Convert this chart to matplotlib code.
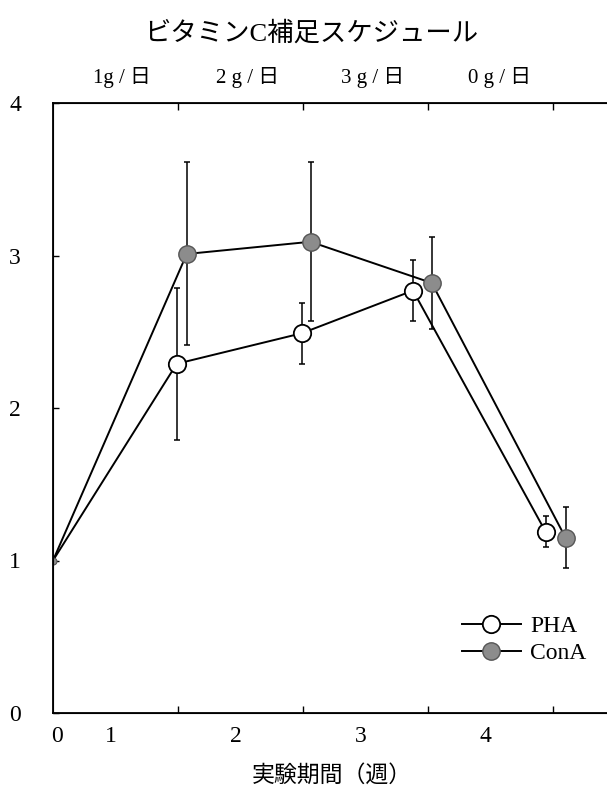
import matplotlib.pyplot as plt
from matplotlib.lines import Line2D

plt.rcParams['font.family'] = ['Liberation Serif', 'Noto Sans CJK JP']

# data (x in weeks)
start = (0.0, 1.0)
pha_x = [0.99, 1.99, 2.88, 3.94]
pha_y = [2.29, 2.49, 2.77, 1.19]
pha_err = [0.5, 0.2, 0.2, 0.1]
cona_x = [1.07, 2.06, 3.03, 4.10]
cona_y = [3.01, 3.09, 2.82, 1.15]
cona_err = [0.6, 0.52, 0.3, 0.2]

bottom_labels = ['0', '1', '2', '3', '4']
bottom_label_pos = [0.03, 0.46, 1.46, 2.46, 3.46]
top_labels = ['1g / 日', '2 g / 日', '3 g / 日', '0 g / 日']
top_label_pos = [0.55, 1.56, 2.56, 3.57]
tick_marks = [1, 2, 3, 4]
y_ticks = [0, 1, 2, 3, 4]

fig = plt.figure(figsize=(6.07, 7.95), dpi=100)
ax = fig.add_axes([53 / 607, 82 / 795, 575 / 607, 610 / 795])
ax.set_xlim(0, 4.6)
ax.set_ylim(0, 4)

gray = '#8c8c8c'
lw = 1.4

# lines from the common start point
ax.plot([start[0]] + pha_x, [start[1]] + pha_y, color='black', lw=lw, zorder=2)
ax.plot([start[0]] + cona_x, [start[1]] + cona_y, color='black', lw=lw, zorder=2)

ax.errorbar(pha_x, pha_y, yerr=pha_err, fmt='none', ecolor='black',
            elinewidth=1.1, capsize=2, capthick=1.1, zorder=3)
ax.errorbar(cona_x, cona_y, yerr=cona_err, fmt='none', ecolor='black',
            elinewidth=1.1, capsize=2, capthick=1.1, zorder=3)

ax.plot(pha_x, pha_y, 'o', ms=12.5, mfc='white', mec='black', mew=1.3, zorder=4)
ax.plot(cona_x, cona_y, 'o', ms=12.5, mfc=gray, mec='#555555', mew=1.0, zorder=4)
ax.plot(*start, 'o', ms=5, mfc=gray, mec='#555555', mew=0.8, zorder=4)

# spines
ax.spines['right'].set_visible(False)
for s in ['left', 'bottom', 'top']:
    ax.spines[s].set_linewidth(1.3)

# bottom axis: labels and inward tick marks at different places
ax.set_xticks(bottom_label_pos)
ax.set_xticklabels(bottom_labels, fontsize=17)
ax.set_xticks(tick_marks, minor=True)
ax.tick_params(axis='x', which='major', length=0, pad=9)
ax.tick_params(axis='x', which='minor', direction='in', length=5, width=1)

ax.set_yticks(y_ticks)
ax.set_yticklabels([str(v) for v in y_ticks], fontsize=17)
ax.tick_params(axis='y', direction='in', length=4, width=1, pad=23)

# top axis with the supplement schedule
top = ax.twiny()
top.set_xlim(ax.get_xlim())
top.spines['right'].set_visible(False)
top.set_xticks(top_label_pos)
top.set_xticklabels(top_labels, fontsize=15)
top.set_xticks(tick_marks, minor=True)
top.tick_params(axis='x', which='major', length=0, pad=11)
top.tick_params(axis='x', which='minor', direction='in', length=5, width=1)

fig.text(311 / 607, 1 - 33 / 795, 'ビタミンC補足スケジュール', fontsize=19,
         ha='center', va='center')
fig.text(332 / 607, 1 - 776 / 795, '実験期間（週）', fontsize=16.5,
         ha='center', va='center')

handles = [
    Line2D([], [], color='black', lw=lw, marker='o', ms=12.5, mfc='white',
           mec='black', mew=1.3),
    Line2D([], [], color='black', lw=lw, marker='o', ms=12.5, mfc=gray,
           mec='#555555', mew=1.0),
]
ax.legend(handles, ['PHA', 'ConA'], frameon=False, fontsize=17,
          loc='center left', bbox_to_anchor=(450 / 607, 1 - 640 / 795),
          bbox_transform=fig.transFigure, handlelength=2.5,
          handletextpad=0.4, labelspacing=0.25, borderpad=0)

fig.savefig('out.png', dpi=100)
